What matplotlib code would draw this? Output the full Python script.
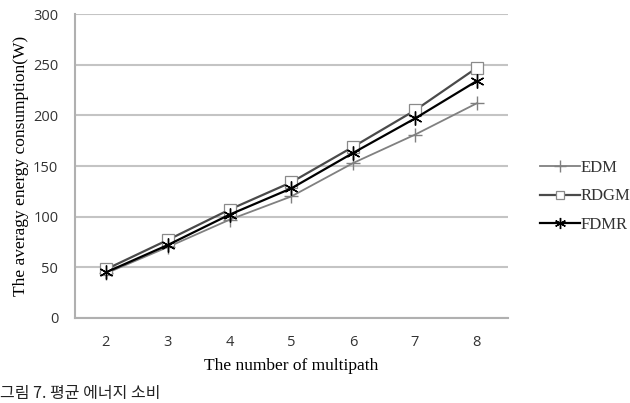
import matplotlib
matplotlib.use("Agg")
import matplotlib.pyplot as plt

paths = [2, 3, 4, 5, 6, 7, 8]
edm = [44, 70, 97, 120, 153, 181, 212]
rdgm = [48, 77, 107, 134, 169, 205, 247]
fdmr = [45, 72, 102, 128, 163, 197, 234]
y_ticks = [0, 50, 100, 150, 200, 250, 300]

fig = plt.figure(figsize=(6.3, 4.03), dpi=100)
ax = fig.add_axes([0.119, 0.211, 0.687, 0.754])

ax.plot(paths, edm, color="#808080", lw=1.3, marker="+", ms=10, mew=1.0, label="EDM")
ax.plot(paths, rdgm, color="#4a4a4a", lw=1.6, marker="s", ms=8, mfc="white",
        mec="#8a8a8a", mew=0.9, label="RDGM")
ax.plot(paths, fdmr, color="black", lw=1.6, marker=(6, 2, 0), ms=10, mew=1.0, label="FDMR")

ax.set_xlim(1.5, 8.5)
ax.set_ylim(0, 300)
ax.set_xticks(paths)
ax.set_yticks(y_ticks)
ax.grid(axis="y", color="#c4c4c4", lw=1.5)
ax.set_axisbelow(True)
for s in ["top", "right"]:
    ax.spines[s].set_visible(False)
ax.spines["left"].set_color("#b0b0b0")
ax.spines["bottom"].set_color("#b0b0b0")
ax.spines["left"].set_linewidth(1.5)
ax.spines["bottom"].set_linewidth(1.5)
ax.tick_params(axis="x", length=0, labelsize=10.5, colors="#333333", pad=12)
ax.tick_params(axis="y", length=0, labelsize=10.5, colors="#333333", pad=12)
for t in ax.get_xticklabels() + ax.get_yticklabels():
    t.set_family("Open Sans")

ax.set_xlabel("The number of multipath", family="Liberation Serif", fontsize=12.5, labelpad=6)
ax.set_ylabel("The averagy energy consumption(W)", family="Liberation Serif", fontsize=12.5, labelpad=3)

leg = ax.legend(loc="center left", bbox_to_anchor=(1.04, 0.40), frameon=False,
                prop={"family": "Liberation Serif", "size": 12},
                handlelength=2.4, handletextpad=0.05, labelspacing=0.75,
                markerscale=0.8)
for t in leg.get_texts():
    t.set_color("#333333")

fig.text(0.0, 1 / 403, "그림 7. 평균 에너지 소비", family="Noto Sans CJK KR",
         fontsize=11.5, va="bottom", ha="left", color="#222222")

fig.savefig("out.png", dpi=100)
